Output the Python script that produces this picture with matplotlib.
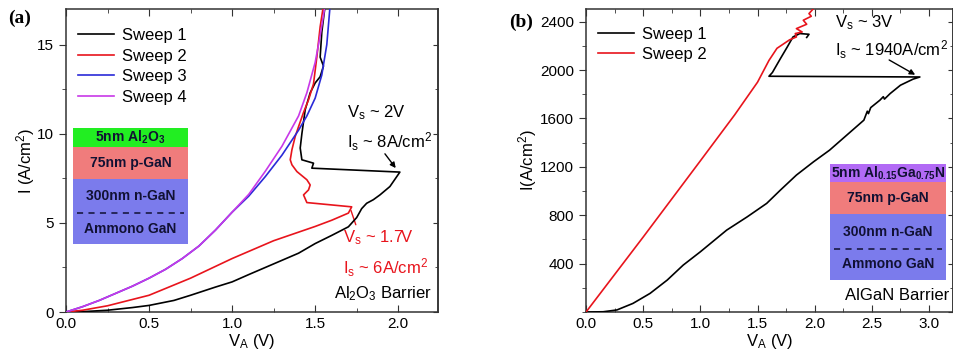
import matplotlib
matplotlib.use("Agg")
import matplotlib.pyplot as plt
from matplotlib.patches import Rectangle
from matplotlib.ticker import MultipleLocator

plt.rcParams['font.family'] = ['Liberation Sans', 'DejaVu Sans']
plt.rcParams['mathtext.fontset'] = 'custom'
plt.rcParams['mathtext.rm'] = 'Liberation Sans'
plt.rcParams['mathtext.bf'] = 'Liberation Sans:bold'
plt.rcParams['mathtext.it'] = 'Liberation Sans:italic'
plt.rcParams['mathtext.default'] = 'regular'

# ---- panel (a): Al2O3 barrier ----
a_v1 = [0, 0.1, 0.25, 0.4, 0.5, 0.65, 0.75, 0.9, 1.0, 1.1, 1.25, 1.4, 1.5, 1.6, 1.7, 1.75, 1.78,
        1.81, 1.85, 1.89, 1.95, 2.01, 1.48, 1.49, 1.42, 1.41, 1.42, 1.44, 1.47, 1.50, 1.53, 1.55,
        1.53, 1.54, 1.56]
a_i1 = [0, 0.02, 0.1, 0.25, 0.37, 0.65, 0.94, 1.4, 1.69, 2.1, 2.7, 3.3, 3.84, 4.3, 4.78, 5.3, 5.8,
        6.1, 6.3, 6.57, 7.04, 7.85, 8.07, 8.35, 8.54, 9.2, 10.0, 11.35, 12.3, 12.85, 13.2, 13.8,
        14.3, 15.7, 17.2]
a_v2 = [0, 0.1, 0.25, 0.5, 0.75, 1.0, 1.25, 1.5, 1.6, 1.7, 1.72, 1.45, 1.43, 1.46, 1.47, 1.45, 1.39,
        1.36, 1.35, 1.36, 1.38, 1.40, 1.43, 1.46, 1.49, 1.51, 1.53, 1.55]
a_i2 = [0, 0.1, 0.35, 0.94, 1.9, 3.0, 4.0, 4.8, 5.15, 5.55, 5.9, 6.14, 6.57, 6.85, 7.13, 7.42, 7.88,
        8.26, 8.54, 9.1, 9.85, 10.4, 11.2, 11.9, 12.8, 14.3, 16.0, 17.2]
a_v3 = [0, 0.1, 0.2, 0.3, 0.4, 0.5, 0.6, 0.7, 0.8, 0.9, 1.0, 1.1, 1.2, 1.3, 1.4, 1.45, 1.5, 1.54, 1.57, 1.59]
a_i3 = [0, 0.3, 0.65, 1.05, 1.45, 1.9, 2.4, 3.0, 3.7, 4.6, 5.6, 6.5, 7.6, 8.8, 10.2, 11.0, 12.0, 13.3, 15.0, 17.2]
a_v4 = [0, 0.1, 0.2, 0.3, 0.4, 0.5, 0.6, 0.7, 0.8, 0.9, 1.0, 1.1, 1.2, 1.3, 1.4, 1.45, 1.5, 1.53, 1.56]
a_i4 = [0, 0.3, 0.65, 1.05, 1.45, 1.9, 2.4, 3.0, 3.7, 4.6, 5.6, 6.6, 7.9, 9.3, 11.0, 12.3, 14.0, 15.5, 17.2]

# ---- panel (b): AlGaN barrier ----
b_v1 = [0, 0.15, 0.27, 0.41, 0.56, 0.71, 0.85, 1.0, 1.23, 1.41, 1.58, 1.70, 1.84, 1.99, 2.13, 2.28,
        2.43, 2.46, 2.47, 2.49, 2.57, 2.60, 2.61, 2.66, 2.75, 2.86, 2.92, 1.60, 1.63, 1.65, 1.70,
        1.76, 1.81, 1.87, 1.95, 1.93]
b_i1 = [0, 2, 17, 71, 154, 264, 388, 498, 677, 787, 898, 1008, 1132, 1242, 1338, 1462,
        1586, 1660, 1640, 1690, 1751, 1780, 1760, 1806, 1875, 1925, 1943, 1949, 1980, 2013, 2095,
        2191, 2274, 2302, 2296, 2270]
b_v2 = [0, 0.5, 1.0, 1.3, 1.5, 1.55, 1.6, 1.67, 1.78, 1.84, 1.83, 1.89, 1.84, 1.93, 1.90, 1.97, 1.95, 2.00]
b_i2 = [0, 620, 1250, 1630, 1900, 1990, 2080, 2180, 2250, 2274, 2302, 2315, 2343, 2379, 2412, 2445, 2467, 2520]

sweep_labels = ['Sweep 1', 'Sweep 2', 'Sweep 3', 'Sweep 4']
sweep_colors = ['black', '#e8141c', '#2a2ad8', '#c838e8']

layers_a = [r'5nm Al$_\mathbf{2}$O$_\mathbf{3}$', '75nm p-GaN', '300nm n-GaN', 'Ammono GaN']
layers_b = [r'5nm Al$_\mathbf{0.15}$Ga$_\mathbf{0.75}$N', '75nm p-GaN', '300nm n-GaN', 'Ammono GaN']


def style_axes(ax, xmaj, ymaj):
    for s in ax.spines.values():
        s.set_color('#333333')
        s.set_linewidth(1.1)
    ax.xaxis.set_major_locator(MultipleLocator(xmaj))
    ax.xaxis.set_minor_locator(MultipleLocator(xmaj / 2))
    ax.yaxis.set_major_locator(MultipleLocator(ymaj))
    ax.yaxis.set_minor_locator(MultipleLocator(ymaj / 2))
    ax.tick_params(axis='x', which='both', direction='in', top=True, labelsize=11, color='#333333')
    ax.tick_params(axis='x', which='major', length=5)
    ax.tick_params(axis='x', which='minor', length=3)
    ax.tick_params(axis='y', which='both', direction='out', right=False, labelsize=11, color='#333333')
    ax.tick_params(axis='y', which='major', length=5)
    ax.tick_params(axis='y', which='minor', length=3)
    # right side ticks point inward while the left ones point out
    sec = ax.secondary_yaxis('right')
    sec.yaxis.set_major_locator(MultipleLocator(ymaj))
    sec.yaxis.set_minor_locator(MultipleLocator(ymaj / 2))
    sec.tick_params(which='both', direction='in', labelright=False, color='#333333')
    sec.spines['right'].set_color('#333333')
    sec.spines['right'].set_linewidth(1.1)


def layer_stack(ax, x0, x1, edges, dash_y, colors, texts):
    for k in range(len(colors)):
        ax.add_patch(Rectangle((x0, edges[k + 1]), x1 - x0, edges[k] - edges[k + 1],
                               transform=ax.transAxes, facecolor=colors[k], edgecolor='none', zorder=1))
    ax.plot([x0 + 0.01, x1 - 0.01], [dash_y, dash_y], transform=ax.transAxes,
            color='#111133', ls=(0, (4, 3.5)), lw=1.1, zorder=2)
    mids = [(edges[0] + edges[1]) / 2, (edges[1] + edges[2]) / 2,
            (edges[2] + dash_y) / 2, (dash_y + edges[3]) / 2]
    for t, y in zip(texts, mids):
        ax.text((x0 + x1) / 2, y, t, transform=ax.transAxes, ha='center', va='center',
                fontsize=10, fontweight='bold', color='#111133', zorder=3)


fig = plt.figure(figsize=(9.54, 3.6), dpi=100)
ax1 = fig.add_axes([0.0692, 0.1333, 0.39, 0.8417])
ax2 = fig.add_axes([0.6143, 0.1333, 0.3847, 0.8417])

# panel a
for v, i, lab, c in zip([a_v1, a_v2, a_v3, a_v4], [a_i1, a_i2, a_i3, a_i4], sweep_labels, sweep_colors):
    ax1.plot(v, i, color=c, lw=1.2, label=lab, zorder=4)
ax1.set_xlim(0, 2.24)
ax1.set_ylim(0, 17)
style_axes(ax1, 0.5, 5)
ax1.set_xlabel('V$_A$ (V)', fontsize=12, labelpad=1)
ax1.set_ylabel('I (A/cm$^2$)', fontsize=12, labelpad=0)
ax1.legend(loc='upper left', bbox_to_anchor=(0.0, 0.975), frameon=False, fontsize=12,
           handlelength=2.2, handletextpad=0.45, labelspacing=0.33, borderaxespad=0.3)
layer_stack(ax1, 0.019, 0.328, [0.607, 0.545, 0.439, 0.224], 0.327,
            ['#22ee22', '#f07c7c', '#7b7bec'], layers_a)
ax1.text(1.69, 11.2, 'V$_s$ ~ 2V', fontsize=12, va='center')
ax1.text(1.69, 9.55, 'I$_s$ ~ 8A/cm$^2$', fontsize=12, va='center')
ax1.annotate('', xy=(1.995, 7.95), xytext=(1.91, 9.0),
             arrowprops=dict(arrowstyle='-|>', color='black', lw=1.0, mutation_scale=8))
ax1.text(1.67, 4.2, 'V$_s$ ~ 1.7V', fontsize=12, color='#e8141c', va='center')
ax1.text(1.67, 2.5, 'I$_s$ ~ 6A/cm$^2$', fontsize=12, color='#e8141c', va='center')
ax1.annotate('', xy=(1.71, 5.85), xytext=(1.75, 4.75),
             arrowprops=dict(arrowstyle='-', color='#e8141c', lw=1.0))
ax1.text(0.985, 0.03, 'Al$_2$O$_3$ Barrier', transform=ax1.transAxes, ha='right', va='bottom', fontsize=12)
fig.text(0.008, 0.935, '(a)', family='Liberation Serif', fontweight='bold', fontsize=14)

# panel b
for v, i, lab, c in zip([b_v1, b_v2], [b_i1, b_i2], sweep_labels[:2], sweep_colors[:2]):
    ax2.plot(v, i, color=c, lw=1.2, label=lab, zorder=4)
ax2.set_xlim(0, 3.21)
ax2.set_ylim(0, 2505)
style_axes(ax2, 0.5, 400)
ax2.set_yticks([400, 800, 1200, 1600, 2000, 2400])
ax2.set_xlabel('V$_A$ (V)', fontsize=12, labelpad=1)
ax2.set_ylabel('I(A/cm$^2$)', fontsize=12, labelpad=1)
ax2.legend(loc='upper left', bbox_to_anchor=(0.0, 0.98), frameon=False, fontsize=12,
           handlelength=2.2, handletextpad=0.45, labelspacing=0.33, borderaxespad=0.3)
layer_stack(ax2, 0.665, 0.981, [0.488, 0.429, 0.323, 0.106], 0.208,
            ['#b26af5', '#f07c7c', '#7b7bec'], layers_b)
ax2.text(2.18, 2395, 'V$_s$ ~ 3V', fontsize=12, va='center')
ax2.text(2.18, 2165, 'I$_s$ ~ 1940A/cm$^2$', fontsize=12, va='center')
ax2.annotate('', xy=(2.9, 1950), xytext=(2.63, 2095),
             arrowprops=dict(arrowstyle='-|>', color='black', lw=1.0, mutation_scale=8))
ax2.text(0.99, 0.03, 'AlGaN Barrier', transform=ax2.transAxes, ha='right', va='bottom', fontsize=12)
fig.text(0.534, 0.925, '(b)', family='Liberation Serif', fontweight='bold', fontsize=14)

fig.savefig('out.png', dpi=100)
